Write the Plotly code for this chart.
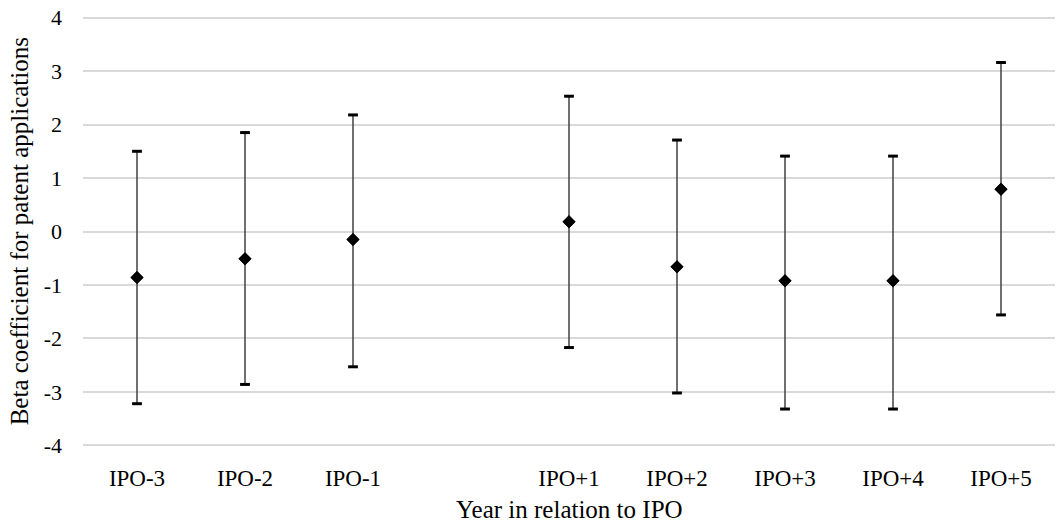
import plotly.graph_objects as go

categories = ["IPO-3", "IPO-2", "IPO-1", "", "IPO+1", "IPO+2", "IPO+3", "IPO+4", "IPO+5"]
labels = ["IPO-3", "IPO-2", "IPO-1", "IPO+1", "IPO+2", "IPO+3", "IPO+4", "IPO+5"]
beta = [-0.86, -0.51, -0.15, 0.18, -0.66, -0.92, -0.92, 0.79]
upper = [1.50, 1.85, 2.18, 2.53, 1.71, 1.41, 1.41, 3.16]
lower = [-3.22, -2.86, -2.53, -2.17, -3.02, -3.32, -3.32, -1.56]
y_ticks = [-4, -3, -2, -1, 0, 1, 2, 3, 4]
y_tick_labels = ["-4", "-3", "-2", "-1", "0", "1", "2", "3", "4"]

xpos = [categories.index(c) for c in labels]
err_plus = [u - b for u, b in zip(upper, beta)]
err_minus = [b - l for b, l in zip(beta, lower)]

font_family = "Liberation Serif, Times New Roman, serif"

fig = go.Figure()
fig.add_trace(go.Scatter(
    x=xpos, y=beta, mode="markers",
    marker=dict(symbol="diamond", size=10, color="black"),
    error_y=dict(type="data", symmetric=False, array=err_plus, arrayminus=err_minus,
                 color="#404040", thickness=1.5, width=0),
    showlegend=False, hoverinfo="skip"))
fig.add_trace(go.Scatter(
    x=xpos + xpos, y=upper + lower, mode="markers",
    marker=dict(symbol="line-ew", size=7, line=dict(width=3, color="black")),
    showlegend=False, hoverinfo="skip"))
fig.add_trace(go.Scatter(
    x=xpos, y=beta, mode="markers",
    marker=dict(symbol="diamond", size=10, color="black"),
    showlegend=False, hoverinfo="skip"))

fig.update_layout(
    width=1058, height=525,
    margin=dict(l=83, r=3, t=16, b=78, autoexpand=False),
    paper_bgcolor="white", plot_bgcolor="white",
    font=dict(family=font_family, size=22, color="black"),
    xaxis=dict(
        range=[-0.5, len(categories) - 0.5],
        tickmode="array", tickvals=xpos, ticktext=labels,
        showgrid=False, zeroline=False, showline=False, ticks="",
        tickfont=dict(size=23), ticklabelstandoff=15, automargin=False,
    ),
    yaxis=dict(
        range=[-4.03, 4.03], tickmode="array", tickvals=y_ticks, ticktext=y_tick_labels,
        showgrid=True, gridcolor="#d9d9d9", gridwidth=1.5,
        zeroline=False, showline=False, ticks="",
        tickfont=dict(size=22), ticklabelstandoff=20, automargin=False,
    ),
    annotations=[
        dict(text="Year in relation to IPO", xref="paper", yref="paper",
             x=0.5, y=-0.146, xanchor="center", yanchor="middle",
             showarrow=False, font=dict(size=25)),
        dict(text="Beta coefficient for patent applications", xref="paper", yref="paper",
             x=-0.065, y=0.5, xanchor="center", yanchor="middle", textangle=-90,
             showarrow=False, font=dict(size=25)),
    ],
)

fig.write_html("out.html", config={"displayModeBar": False},
               post_script="document.body.style.margin='0';document.body.style.overflow='hidden';")
